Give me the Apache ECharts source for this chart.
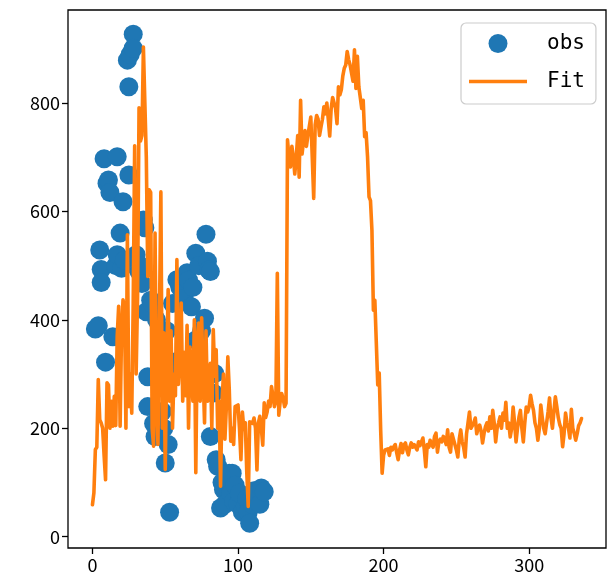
<!DOCTYPE html>
<html>
<head>
<meta charset="utf-8">
<script src="https://cdn.jsdelivr.net/npm/echarts@6/dist/echarts.min.js"></script>
<style>html,body{margin:0;padding:0;background:#fff}#c{width:610px;height:588px}</style>
</head>
<body>
<div id="c"></div>
<script>
// observed points
var obsX = [2,4,5,6,6,8,9,10,11,12,14,16,17,17,19,20,21,22,24,25,25,26,28,28,30,32,33,34,35,36,37,38,38,40,41,42,43,44,46,48,49,50,51,52,53,55,57,58,58,60,62,63,65,66,68,69,71,71,73,75,77,78,79,80,81,81,82,83,84,85,86,88,89,90,91,92,94,95,96,97,98,100,101,103,105,106,107,108,110,111,113,115,116,118];
var obsY = [383,389,529,493,469,697,322,652,658,635,369,500,701,520,560,495,618,510,879,830,667,890,927,901,520,489,500,467,584,570,415,295,240,436,430,209,185,400,300,231,200,136,380,170,45,430,317,323,474,460,449,440,487,473,424,460,523,363,500,380,403,558,508,492,489,185,301,265,301,142,130,53,100,87,60,110,117,80,117,65,95,60,80,45,56,70,45,25,60,85,80,60,90,83];
// fitted curve, one value per x = 0..336
var fitY = [
59,81,161,165,290,216,210,200,150,105,
284,280,200,250,204,259,205,370,425,204,
380,437,420,200,557,240,300,228,430,721,
300,443,791,730,740,903,800,700,480,640,
635,200,167,560,250,170,400,636,200,376,
124,320,456,250,380,200,300,260,511,281,
327,431,250,340,260,390,200,350,300,250,
400,118,360,394,250,404,300,210,380,250,
271,320,200,382,296,345,200,250,93,250,
300,180,240,332,271,176,200,170,240,240,
243,200,142,230,198,210,120,56,212,213,
209,219,200,123,210,222,200,169,247,220,
230,250,240,277,260,240,250,486,224,250,
264,255,240,246,732,700,682,720,700,669,
700,740,663,805,706,730,749,720,740,743,
774,700,624,760,777,770,740,756,770,793,
780,800,770,739,790,810,800,790,762,830,
815,825,850,864,870,895,880,870,855,840,
898,827,886,830,810,790,805,738,745,700,
627,620,565,418,436,436,280,302,197,117,
150,160,158,162,150,165,160,166,170,155,
142,160,172,155,169,173,160,151,165,173,
165,170,173,160,175,168,170,182,160,129,
170,165,178,170,165,185,191,156,175,180,
175,185,180,170,197,165,156,190,180,170,
160,147,180,197,175,165,147,190,210,230,
200,197,210,219,190,200,206,195,173,190,
203,210,195,221,200,233,210,175,200,210,
221,200,228,215,248,200,210,184,200,239,
210,175,200,220,233,200,175,210,239,230,
240,261,245,233,210,200,178,200,243,220,
200,190,210,230,256,220,200,230,258,240,
220,207,200,166,190,228,210,200,182,235,
200,190,178,190,205,210,218
];
var xTicks = [0,100,200,300];
var yTicks = [0,200,400,600,800];

var obsData = obsX.map(function(x,i){return [x, obsY[i]];});
var fitData = fitY.map(function(v,i){return [i, v];});

var chart = echarts.init(document.getElementById('c'), null, {renderer:'canvas'});
var labelFont = {color:'#000', fontSize:18, fontFamily:'Noto Sans CJK SC'};
chart.setOption({
  animation:false,
  backgroundColor:'#fff',
  grid:{left:68, right:4, top:10, bottom:40, show:true, borderColor:'#000', borderWidth:1.3, containLabel:false},
  xAxis:{type:'value', min:-16.8, max:352.8,
    axisLine:{show:false, onZero:false}, splitLine:{show:false},
    axisTick:{show:true, length:6, lineStyle:{color:'#000', width:1.3}, customValues:xTicks},
    axisLabel:Object.assign({margin:8, customValues:xTicks}, labelFont)},
  yAxis:{type:'value', min:-20.8, max:971.5,
    axisLine:{show:false, onZero:false}, splitLine:{show:false},
    axisTick:{show:true, length:6, lineStyle:{color:'#000', width:1.3}, customValues:yTicks},
    axisLabel:Object.assign({margin:8, customValues:yTicks}, labelFont)},
  legend:{orient:'vertical', left:461, top:23, padding:[10,11,12,8],
    itemWidth:58, itemHeight:19, itemGap:17,
    borderColor:'#cccccc', borderWidth:1.2, borderRadius:5, backgroundColor:'rgba(255,255,255,0.8)',
    textStyle:{fontFamily:'DejaVu Sans Mono', fontSize:21, color:'#000', padding:[0,0,0,15], lineHeight:19},
    data:[{name:'obs', icon:'circle'},{name:'Fit', icon:'path://M0,0 L58,0 L58,3.6 L0,3.6 Z'}]},
  series:[
    {name:'obs', type:'scatter', data:obsData, symbol:'circle', symbolSize:19,
      itemStyle:{color:'#1f77b4', opacity:1}},
    {name:'Fit', type:'line', data:fitData, symbol:'none', showSymbol:false,
      lineStyle:{color:'#ff7f0e', width:3.6, join:'round', cap:'round'}, itemStyle:{color:'#ff7f0e'}}
  ]
});
</script>
</body>
</html>
